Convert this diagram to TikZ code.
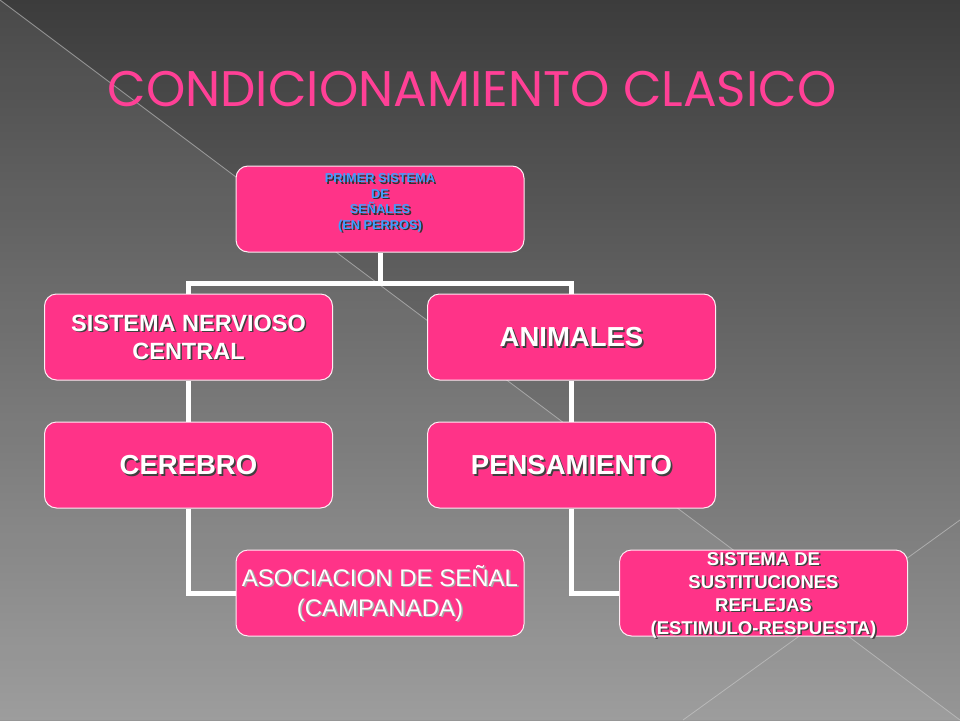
\documentclass[tikz,border=0pt]{standalone}
\usepackage{fontspec}
\setmainfont{Liberation Sans}
\newfontfamily\titlefont{Poppins}
\definecolor{boxpink}{RGB}{255,51,136}
\definecolor{titlepink}{RGB}{255,64,150}
\definecolor{topblue}{RGB}{60,160,255}
\definecolor{bgtop}{RGB}{60,60,60}
\definecolor{bgbot}{RGB}{150,150,150}
\newcommand\shd[2][black!75]{\leavevmode\rlap{\raisebox{-1.6pt}{\kern1.6pt\textcolor{#1}{#2}}}#2}
\tikzset{
  pbox/.style={draw=white!90!boxpink, line width=1pt, fill=boxpink, rounded corners=12pt,
    minimum width=288pt, minimum height=86pt, inner sep=0pt, text=white, align=center},
  conn/.style={draw=white, line width=5pt, line join=miter},
  bgline/.style={draw=white!60!gray, line width=0.8pt, opacity=0.6}
}
\begin{document}
\begin{tikzpicture}[x=1pt,y=-1pt]
\useasboundingbox (0,0) rectangle (960,720);
% background
\shade[top color=bgtop, bottom color=bgbot] (0,0) rectangle (960,720);
\fill[white, opacity=0.07] (0,0) -- (960,720) -- (0,720) -- cycle;
\draw[bgline] (0,0) -- (960,720);
\draw[bgline] (960,520) -- (683,720);
% title
\node[font=\titlefont\fontsize{50}{58}\selectfont, text=titlepink, inner sep=0pt] (title) at (472,89) {CONDICIONAMIENTO CLASICO};
% boxes
\node[pbox] (top) at (380,209) {};
\node[pbox] (snc) at (188.5,337) {};
\node[pbox] (ani) at (571.5,337) {};
\node[pbox] (cer) at (188.5,465) {};
\node[pbox] (pen) at (571.5,465) {};
\node[pbox] (aso) at (380,593) {};
\node[pbox] (sis) at (763.5,593) {};
% connectors
\draw[conn] (top.south) -- ++(0,31) coordinate (j);
\draw[conn] (snc.north) |- (j) -| (ani.north);
\draw[conn] (snc.south) -- (cer.north);
\draw[conn] (ani.south) -- (pen.north);
\draw[conn] (cer.south) |- (aso.west);
\draw[conn] (pen.south) |- (sis.west);
% texts
\node[anchor=north, align=center, text=topblue, font=\bfseries\fontsize{12.8}{15.5}\selectfont, inner sep=0pt] (toptxt) at ([yshift=-8pt]top.north)
  {\shd[black!80]{PRIMER SISTEMA}\\\shd[black!80]{DE}\\\shd[black!80]{SEÑALES}\\\shd[black!80]{(EN PERROS)}};
\node[align=center, text=white, font=\bfseries\fontsize{23.5}{28}\selectfont, inner sep=0pt] (snctxt) at (188.5,338)
  {\shd{SISTEMA NERVIOSO}\\\shd{CENTRAL}};
\node[text=white, font=\bfseries\fontsize{27.5}{32}\selectfont, inner sep=0pt] (anitxt) at (571.5,338) {\shd{ANIMALES}};
\node[text=white, font=\bfseries\fontsize{27.5}{32}\selectfont, inner sep=0pt] (certxt) at (188.5,466) {\shd{CEREBRO}};
\node[text=white, font=\bfseries\fontsize{27.5}{32}\selectfont, inner sep=0pt] (pentxt) at (571.5,466) {\shd{PENSAMIENTO}};
\node[align=center, text=white, font=\fontsize{24}{30}\selectfont, inner sep=0pt] (asotxt) at (380,594)
  {\shd[black!35]{ASOCIACION DE SEÑAL}\\\shd[black!35]{(CAMPANADA)}};
\node[align=center, text=white, font=\bfseries\fontsize{18.5}{23}\selectfont, inner sep=0pt] (sistxt) at (763.5,596)
  {\shd{SISTEMA DE}\\\shd{SUSTITUCIONES}\\\shd{REFLEJAS}\\\shd{(ESTIMULO-RESPUESTA)}};
\end{tikzpicture}
\end{document}
